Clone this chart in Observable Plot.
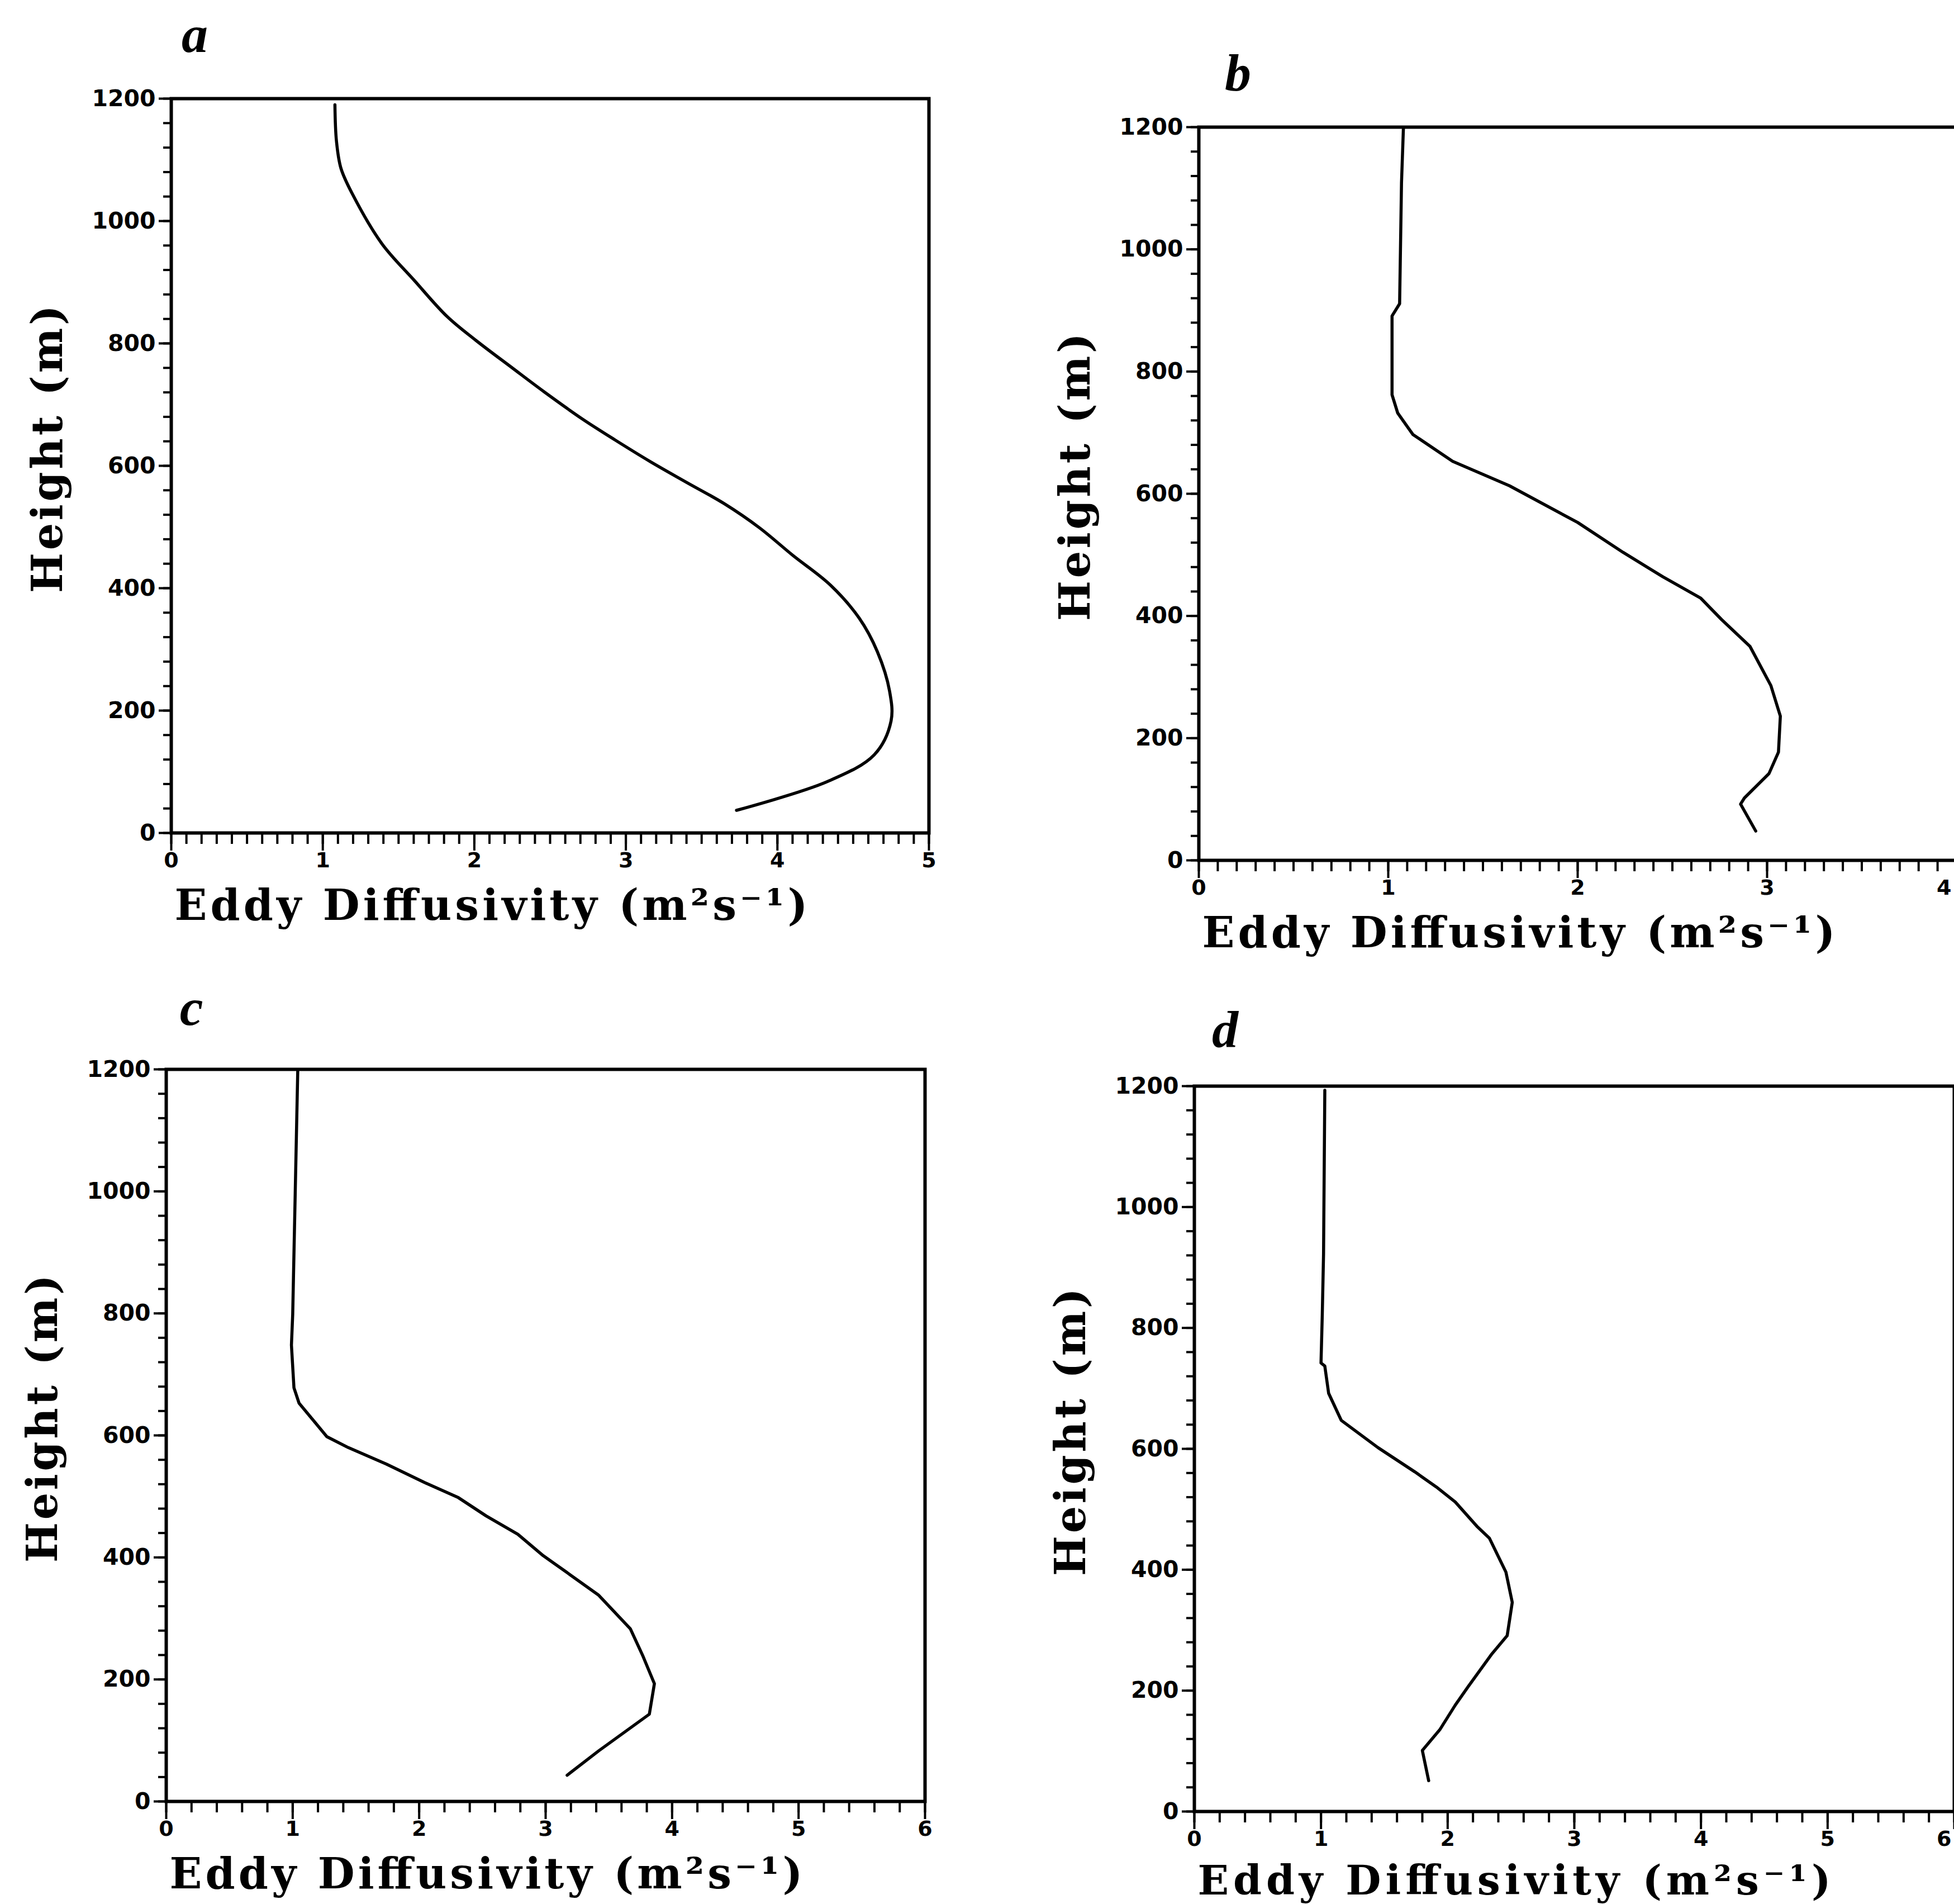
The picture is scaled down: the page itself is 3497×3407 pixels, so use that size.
<!DOCTYPE html>
<html><head><meta charset="utf-8">
<script src="https://cdn.jsdelivr.net/npm/d3@7"></script>
<script src="https://cdn.jsdelivr.net/npm/@observablehq/plot@0.6"></script>
<style>
html,body{margin:0;padding:0;background:#fff;overflow:hidden;}
#page{position:relative;width:3497px;height:3407px;overflow:hidden;background:#fff;}
.panel{position:absolute;}
.panel svg{overflow:visible;max-width:none !important;display:block;}
</style></head><body><div id="page"></div>
<script>
// ---- data ----
const panelLetters = ["a", "b", "c", "d"];
const xMaxima = [5, 4, 6, 6];
const xLabel = "Eddy Diffusivity (m²s⁻¹)";
const yLabel = "Height (m)";
const yMajorTicks = [0, 200, 400, 600, 800, 1000, 1200];

const heightA = [1190, 1131, 1086, 1042, 963, 904, 844, 805, 760, 721, 677, 642, 607, 573, 538, 499, 454, 405, 351, 296, 232, 183, 128, 84, 37];
const diffA   = [1.08, 1.09, 1.12, 1.20, 1.39, 1.60, 1.82, 2.01, 2.25, 2.46, 2.71, 2.93, 3.16, 3.40, 3.65, 3.88, 4.10, 4.35, 4.54, 4.66, 4.74, 4.75, 4.64, 4.33, 3.73];

const heightB = [1198, 1109, 911, 891, 762, 732, 697, 653, 613, 553, 504, 464, 429, 394, 350, 286, 236, 177, 142, 102, 92, 48];
const diffB   = [1.08, 1.07, 1.06, 1.02, 1.02, 1.05, 1.13, 1.34, 1.64, 2.00, 2.24, 2.45, 2.65, 2.76, 2.91, 3.02, 3.07, 3.06, 3.01, 2.88, 2.86, 2.94];

const heightC = [1198, 998, 798, 748, 678, 653, 628, 598, 580, 553, 523, 498, 468, 438, 403, 378, 338, 283, 238, 193, 143, 83, 43];
const diffC   = [1.04, 1.02, 1.00, 0.99, 1.01, 1.05, 1.15, 1.27, 1.44, 1.74, 2.04, 2.31, 2.53, 2.78, 2.98, 3.15, 3.42, 3.67, 3.77, 3.86, 3.82, 3.42, 3.17];

const heightD = [1193, 922, 822, 742, 737, 692, 647, 602, 562, 537, 512, 472, 452, 396, 346, 291, 261, 206, 176, 136, 101, 51];
const diffD   = [1.03, 1.02, 1.01, 1.00, 1.03, 1.06, 1.16, 1.45, 1.74, 1.91, 2.06, 2.23, 2.33, 2.46, 2.51, 2.47, 2.35, 2.16, 2.06, 1.94, 1.80, 1.85];

const heights = [heightA, heightB, heightC, heightD];
const diffs = [diffA, diffB, diffC, diffD];

// ---- layout (frame positions on the page) ----
const layout = [
  {L: 306,  T: 176,  W: 1356, H: 1314, minor: 0.1, ldx: 42, ldy: -84, curve: "catmull-rom", xl: 155, xfs: 76},
  {L: 2145, T: 227,  W: 1356, H: 1312, minor: 0.1, ldx: 70, ldy: -66, curve: "linear", xl: 155, xfs: 76},
  {L: 297,  T: 1913, W: 1358, H: 1310, minor: 0.2, ldx: 45, ldy: -80, curve: "linear", xl: 155, xfs: 76},
  {L: 2137, T: 1943, W: 1360, H: 1298, minor: 0.2, ldx: 55, ldy: -70, curve: "linear", xl: 148, xfs: 73}
];
const M = {left: 320, right: 40, top: 220, bottom: 210};
const pageWidth = 3497;
const tickFont = "DejaVu Sans";
const labelFont = "DejaVu Serif";

const page = document.getElementById("page");

panelLetters.forEach((letter, i) => {
  const lay = layout[i];
  const xmax = xMaxima[i];
  const rows = heights[i].map((z, j) => ({z, k: diffs[i][j]}));
  const nMinor = Math.round(xmax / lay.minor);
  const xMinor = d3.range(0, nMinor + 1).map(j => +(j * lay.minor).toFixed(2));
  const xMajor = d3.range(0, xmax + 1);
  const yMinor = d3.range(0, 1201, 40);
  const W = M.left + lay.W + M.right;
  const H = M.top + lay.H + M.bottom;

  const svg = Plot.plot({
    width: W,
    height: H,
    marginLeft: M.left, marginRight: M.right, marginTop: M.top, marginBottom: M.bottom,
    style: {background: "transparent", overflow: "visible", fontFamily: tickFont, fontWeight: "bold"},
    x: {domain: [0, xmax]},
    y: {domain: [0, 1200]},
    marks: [
      Plot.axisX({ticks: xMinor, tickSize: 20, tickFormat: () => "", strokeWidth: 4, label: null}),
      Plot.axisX({ticks: xMajor, tickSize: 32, tickPadding: 3, tickFormat: d => `${d}`, strokeWidth: 4,
        fontSize: 38, fontFamily: tickFont, fontWeight: "bold", label: null}),
      Plot.axisY({ticks: yMinor, tickSize: 14, tickFormat: () => "", strokeWidth: 4, label: null}),
      Plot.axisY({ticks: yMajorTicks, tickSize: 22, tickPadding: 6, tickFormat: d => `${d}`, strokeWidth: 4,
        fontSize: 41, fontFamily: tickFont, fontWeight: "bold", label: null}),
      Plot.frame({stroke: "black", strokeWidth: 6}),
      Plot.line(rows, {x: "k", y: "z", stroke: "black", strokeWidth: 5.5, curve: lay.curve,
        strokeLinejoin: "round", strokeLinecap: "round"}),
      Plot.text([xLabel], {text: d => d, frameAnchor: "bottom-left", dx: 6, dy: lay.xl,
        textAnchor: "start", lineAnchor: "bottom", fontSize: lay.xfs, fontFamily: labelFont,
        fontWeight: "bold", fill: "black"}),
      Plot.text([yLabel], {text: d => d, frameAnchor: "left", dx: -220, dy: -30, rotate: -90,
        textAnchor: "middle", lineAnchor: "middle", fontSize: 76, fontFamily: labelFont,
        fontWeight: "bold", fill: "black"}),
      Plot.text([letter], {text: d => d, frameAnchor: "top-left", dx: lay.ldx, dy: lay.ldy,
        textAnchor: "middle", lineAnchor: "bottom", fontSize: 94, fontFamily: "Liberation Serif",
        fontStyle: "italic", fontWeight: "bold", fill: "black"})
    ]
  });

  svg.style.maxWidth = "none";
  svg.style.width = W + "px";
  svg.style.height = H + "px";
  const overflow = (lay.L + lay.W) - (pageWidth - 5);
  svg.querySelectorAll("text").forEach(t => {
    if (t.textContent === xLabel) { t.setAttribute("textLength", 1133); t.setAttribute("lengthAdjust", "spacing"); }
    if (t.textContent === yLabel) { t.setAttribute("textLength", 515); t.setAttribute("lengthAdjust", "spacing"); }
    // keep the last x tick label inside the page when the frame reaches the page edge
    if (overflow > -8 && t.textContent === `${xmax}`) {
      t.setAttribute("text-anchor", "end");
      t.style.textAnchor = "end";
      t.setAttribute("dx", Math.min(0, -overflow));
    }
  });

  const div = document.createElement("div");
  div.className = "panel";
  div.style.left = (lay.L - M.left) + "px";
  div.style.top = (lay.T - M.top) + "px";
  div.style.width = W + "px";
  div.style.height = H + "px";
  div.appendChild(svg);
  page.appendChild(div);
});
</script>
</body></html>
